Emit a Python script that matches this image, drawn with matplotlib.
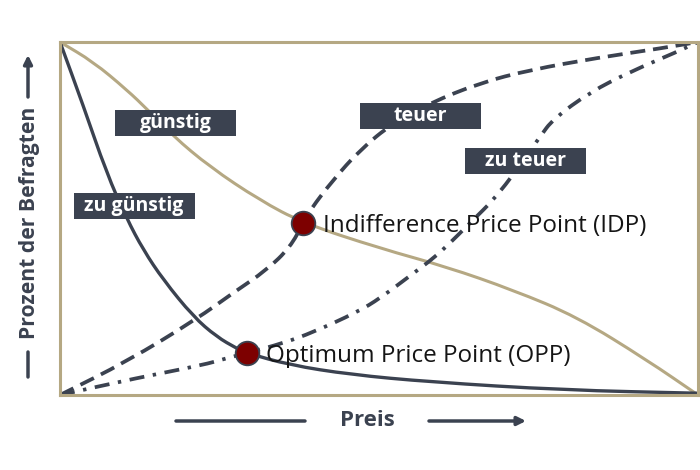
import matplotlib
matplotlib.use("Agg")
import matplotlib.pyplot as plt
from matplotlib.path import Path
from matplotlib.patches import PathPatch, Rectangle

# curve points (x = price share, y = share of respondents)
zu_guenstig_x = [0.0, 0.036, 0.073, 0.1045, 0.1306, 0.162, 0.209, 0.2455, 0.277, 0.293, 0.360, 0.455, 0.580, 0.788, 1.0]
zu_guenstig_y = [1.0, 0.822, 0.629, 0.500, 0.411, 0.326, 0.222, 0.165, 0.132, 0.119, 0.085, 0.058, 0.037, 0.014, 0.005]

guenstig_x = [0.0, 0.052, 0.105, 0.138, 0.177, 0.235, 0.313, 0.381, 0.5016, 0.606, 0.7105, 0.810, 0.920, 1.0]
guenstig_y = [1.0, 0.944, 0.864, 0.807, 0.734, 0.646, 0.552, 0.487, 0.4155, 0.363, 0.297, 0.222, 0.099, 0.0]

teuer_x = [0.0, 0.105, 0.214, 0.271, 0.324, 0.361, 0.381, 0.392, 0.428, 0.470, 0.522, 0.580, 0.658, 0.737, 0.842, 0.945, 1.0]
teuer_y = [0.0, 0.095, 0.215, 0.289, 0.354, 0.419, 0.487, 0.524, 0.609, 0.694, 0.771, 0.827, 0.884, 0.921, 0.955, 0.983, 1.0]

zu_teuer_x = [0.0, 0.120, 0.224, 0.261, 0.293, 0.350, 0.397, 0.466, 0.5016, 0.554, 0.585, 0.611, 0.637, 0.690, 0.752, 0.773, 0.831, 0.893, 0.967, 1.0]
zu_teuer_y = [0.0, 0.048, 0.085, 0.104, 0.119, 0.147, 0.178, 0.235, 0.274, 0.345, 0.387, 0.430, 0.477, 0.572, 0.731, 0.782, 0.858, 0.915, 0.972, 1.0]

point_names = ["Indifference Price Point (IDP)", "Optimum Price Point (OPP)"]
point_x = [0.381, 0.293]
point_y = [0.487, 0.119]

box_labels = ["günstig", "zu günstig", "teuer", "zu teuer"]

DARK = "#3b4250"
TAN = "#b5a883"
RED = "#7d0000"

# centres of the label boxes (axes data coords) and their size
box_pos = [(0.181, 0.771), (0.116, 0.536), (0.565, 0.790), (0.729, 0.664)]
BOX_W, BOX_H = 121 / 638, 26 / 353


def smooth_path(xs, ys):
    # quadratic bezier through midpoints, so the curve looks smooth
    pts = list(zip(xs, ys))
    verts = [pts[0], ((pts[0][0] + pts[1][0]) / 2, (pts[0][1] + pts[1][1]) / 2)]
    codes = [Path.MOVETO, Path.LINETO]
    for i in range(1, len(pts) - 1):
        mid = ((pts[i][0] + pts[i + 1][0]) / 2, (pts[i][1] + pts[i + 1][1]) / 2)
        verts += [pts[i], mid]
        codes += [Path.CURVE3, Path.CURVE3]
    verts.append(pts[-1])
    codes.append(Path.LINETO)
    return Path(verts, codes)


plt.rcParams['font.family'] = ['Open Sans', 'DejaVu Sans']

fig = plt.figure(figsize=(7, 4.7), dpi=100)
ax = fig.add_axes([60 / 700, 75 / 470, 638 / 700, 353 / 470])
ax.set_xlim(0, 1)
ax.set_ylim(0, 1)
ax.set_xticks([])
ax.set_yticks([])
for s in ax.spines.values():
    s.set_color(TAN)
    s.set_linewidth(2.2)

ax.add_patch(PathPatch(smooth_path(guenstig_x, guenstig_y), fill=False, edgecolor=TAN, lw=2.2, zorder=2))
ax.add_patch(PathPatch(smooth_path(zu_guenstig_x, zu_guenstig_y), fill=False, edgecolor=DARK, lw=2.4, zorder=2))
ax.add_patch(PathPatch(smooth_path(teuer_x, teuer_y), fill=False, edgecolor=DARK, lw=2.7,
                       linestyle=(0, (4.0, 2.1)), zorder=2))
ax.add_patch(PathPatch(smooth_path(zu_teuer_x, zu_teuer_y), fill=False, edgecolor=DARK, lw=2.7,
                       linestyle=(0, (4.0, 2.3, 0.9, 2.3)), zorder=2))

for name, px, py in zip(point_names, point_x, point_y):
    ax.annotate(name, (px, py), xytext=(14, -2), textcoords='offset points', va='center', ha='left',
                fontsize=17.5, color='#151515', zorder=3)
ax.plot(point_x, point_y, 'o', color=RED, markersize=17, markeredgecolor=DARK, markeredgewidth=1.3, zorder=4)

for lab, (bx, by) in zip(box_labels, box_pos):
    ax.add_patch(Rectangle((bx - BOX_W / 2, by - BOX_H / 2), BOX_W, BOX_H, facecolor=DARK,
                           edgecolor='none', zorder=5))
    ax.text(bx, by, lab, ha='center', va='center', color='white', fontsize=14, fontweight='bold', zorder=6)

# axis captions with arrows, placed in figure pixels
fig.text(367 / 700, 49 / 470, "Preis", ha='center', va='center', fontsize=16, fontweight='bold', color=DARK)
fig.text(30 / 700, 247 / 470, "Prozent der Befragten", ha='center', va='center', rotation=90,
         fontsize=15.2, fontweight='bold', color=DARK)
arrow_kw = dict(arrowstyle='-|>,head_length=0.5,head_width=0.25', color=DARK, lw=2.5, shrinkA=0, shrinkB=0)
line_kw = dict(arrowstyle='-', color=DARK, lw=2.5, shrinkA=0, shrinkB=0)
ax.annotate("", xy=(305, 49), xytext=(176, 49), xycoords='figure pixels', arrowprops=line_kw, annotation_clip=False)
ax.annotate("", xy=(526, 49), xytext=(429, 49), xycoords='figure pixels', arrowprops=arrow_kw, annotation_clip=False)
ax.annotate("", xy=(28, 93), xytext=(28, 118), xycoords='figure pixels', arrowprops=line_kw, annotation_clip=False)
ax.annotate("", xy=(28, 415), xytext=(28, 373), xycoords='figure pixels', arrowprops=arrow_kw, annotation_clip=False)

fig.savefig("out.png", dpi=100)
